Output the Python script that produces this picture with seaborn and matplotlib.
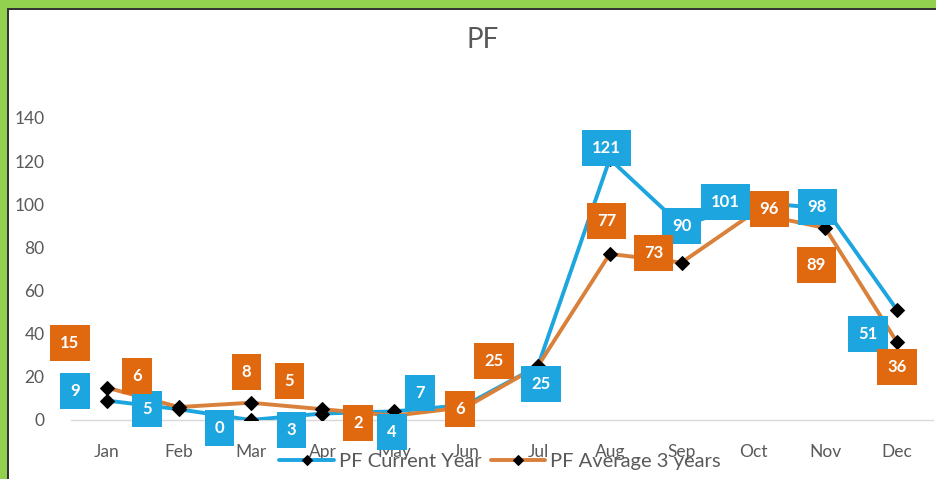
"""PF monthly chart: current year vs 3-year average."""

import matplotlib

matplotlib.use("Agg")
import matplotlib.pyplot as plt
import numpy as np
import pandas as pd
import seaborn as sns
from matplotlib.patches import Rectangle

months = ["Jan", "Feb", "Mar", "Apr", "May", "Jun",
          "Jul", "Aug", "Sep", "Oct", "Nov", "Dec"]
current_year = [9, 5, 0, 3, 4, 7, 25, 121, 90, 101, 98, 51]
average_3y = [15, 6, 8, 5, 2, 6, 25, 77, 73, 96, 89, 36]
series_names = ["PF Current Year", "PF Average 3 years"]
y_ticks = [0, 20, 40, 60, 80, 100, 120, 140]

# where the data labels sit relative to their point, in pixels (dx right, dy down)
offsets_current = [(-32, -10), (-32, 0), (-31, 8), (-31, 16), (-2, 21), (-46, -12),
                   (3, 18), (-3, -11), (0, 0), (-28, 0), (-8, -2), (-29, 24)]
offsets_average = [(-37, -45), (-42, -31), (-4, -31), (-33, -28), (-36, 7), (-6, 2),
                   (-44, -5), (-3, -33), (-28, -10), (16, -4), (-9, 37), (0, 25)]

BLUE = "#1DA5E0"
ORANGE_BOX = "#E0680F"
ORANGE_LINE = "#D9803A"
GREY = "#595959"
AXIS_GREY = "#D9D9D9"

sns.set_theme(style="white")
plt.rcParams["font.family"] = ["Lato", "DejaVu Sans"]

df = pd.DataFrame({
    "month": months,
    "pos": np.arange(len(months)),
    series_names[0]: current_year,
    series_names[1]: average_3y,
}).melt(id_vars=["month", "pos"], var_name="series", value_name="value")

fig, ax = plt.subplots(figsize=(9.37, 4.79), dpi=100)
ax.set_position([71 / 937, 59 / 479, 862 / 937, 302 / 479])

styles = {
    series_names[0]: (BLUE, BLUE, offsets_current),
    series_names[1]: (ORANGE_LINE, ORANGE_BOX, offsets_average),
}

for name in series_names:
    line_color, box_color, offsets = styles[name]
    sub = df[df["series"] == name]
    sns.lineplot(data=sub, x="pos", y="value", color=line_color, linewidth=2.8,
                 marker="D", markersize=7, markerfacecolor="black",
                 markeredgecolor="black", label=name, ax=ax, zorder=3)
    for (x, v), (dx, dy) in zip(zip(sub["pos"], sub["value"]), offsets):
        ax.annotate(str(v), (x, v), xytext=(dx, -dy), textcoords="offset pixels",
                    ha="center", va="center", fontsize=12, fontweight="bold",
                    color="white", zorder=6, annotation_clip=False,
                    bbox=dict(boxstyle="square,pad=0.6", fc=box_color, ec="none"))

ax.set_xlim(-0.5, 11.5)
ax.set_ylim(0, 140)
ax.set_xticks(np.arange(len(months)), months)
ax.set_xticks(np.arange(-0.5, len(months), 1), minor=True)
ax.set_yticks(y_ticks)
ax.set_xlabel("")
ax.set_ylabel("")
ax.tick_params(axis="x", which="major", length=0, pad=17, labelsize=12.5, labelcolor=GREY)
ax.tick_params(axis="x", which="minor", length=4, width=1, color=AXIS_GREY, direction="out")
ax.tick_params(axis="y", length=0, pad=19, labelsize=12.5, labelcolor=GREY)
sns.despine(ax=ax, left=True)
ax.spines["bottom"].set_color(AXIS_GREY)
ax.spines["bottom"].set_linewidth(1)

ax.legend(loc="center", bbox_to_anchor=(500 / 937, 18 / 479),
          bbox_transform=fig.transFigure, ncol=2, frameon=False, fontsize=14.5,
          handlelength=2.7, handletextpad=0.25, columnspacing=0.45,
          markerscale=0.8, labelcolor=GREY)

fig.text(483 / 937, 1 - 40 / 479, "PF", ha="center", va="center",
         fontsize=20, color=GREY)

# green frame on top and left, with a thin dark rule inside it
for (x0, y0), w, h, color in [
    ((0, 471 / 479), 1, 8 / 479, "#92D050"),
    ((0, 0), 7 / 937, 1, "#92D050"),
    ((7 / 937, 469 / 479), 1, 2 / 479, "#333333"),
    ((7 / 937, 0), 2 / 937, 471 / 479, "#333333"),
]:
    fig.add_artist(Rectangle((x0, y0), w, h, transform=fig.transFigure,
                             facecolor=color, edgecolor="none", zorder=10))

fig.savefig("out.png", dpi=100)
plt.close(fig)
